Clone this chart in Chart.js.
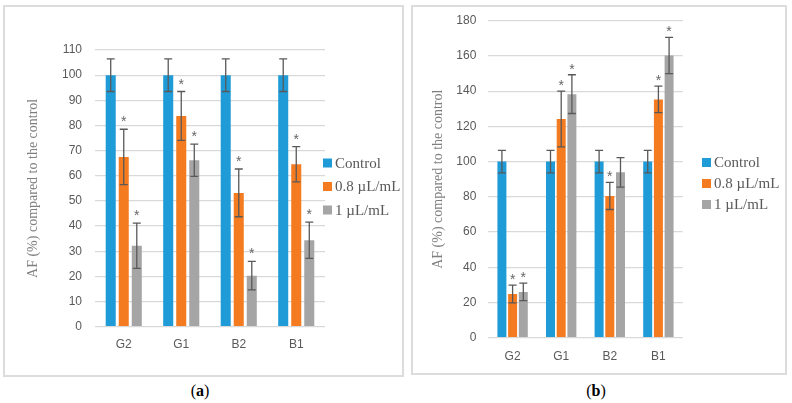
<!DOCTYPE html>
<html>
<head>
<meta charset="utf-8">
<script src="https://cdn.jsdelivr.net/npm/chart.js@4.4.1/dist/chart.umd.min.js"></script>
<style>
  html, body { margin: 0; padding: 0; background: #fff; }
  body { width: 792px; height: 403px; position: relative; overflow: hidden; }
  .box { position: absolute; border: 2px solid #dcdcdc; box-sizing: border-box; }
  .wrap { position: absolute; }
  .cap { position: absolute; font-family: "Liberation Serif", serif; font-size: 16px; color: #000; transform: translateX(-50%); }
</style>
</head>
<body>
<div class="box" style="left:3px;top:5px;width:401px;height:372px;"></div>
<div class="box" style="left:411px;top:5px;width:376px;height:370px;"></div>
<div class="wrap" style="left:0;top:0;width:405px;height:380px;"><canvas id="ca" width="405" height="380"></canvas></div>
<div class="wrap" style="left:405px;top:0;width:387px;height:380px;"><canvas id="cb" width="387" height="380"></canvas></div>
<div class="cap" style="left:200px;top:382px;">(<b>a</b>)</div>
<div class="cap" style="left:596px;top:382px;">(<b>b</b>)</div>
<script>
// ---- data ----
const categories = ['G2', 'G1', 'B2', 'B1'];
const seriesNames = ['Control', '0.8 \u00B5L/mL', '1 \u00B5L/mL'];

const aControl = [100, 100, 100, 100];
const aControlErr = [6.5, 6.5, 6.5, 6.5];
const aLow = [67.5, 83.8, 53.2, 64.6];
const aLowErr = [11, 9.7, 9.5, 7];
const aHigh = [32.2, 66.2, 20.3, 34.4];
const aHighErr = [9, 6.4, 5.7, 7.2];
const aLowSig = [true, true, true, true];
const aHighSig = [true, true, true, true];
const aTicks = { min: 0, max: 110, step: 10 };

const bControl = [100, 100, 100, 100];
const bControlErr = [6.4, 6.4, 6.4, 6.4];
const bLow = [24.8, 124.2, 80.5, 135.3];
const bLowErr = [5, 15.8, 7.7, 7.5];
const bHigh = [26, 138.3, 93.9, 160.2];
const bHighErr = [5, 11, 8.4, 10.3];
const bLowSig = [true, true, true, true];
const bHighSig = [true, true, false, true];
const bTicks = { min: 0, max: 180, step: 20 };

const colors = ['#1F9BD7', '#F47B20', '#A5A5A5'];
const yTitle = 'AF (%) compared to the control';

// ---- plugins ----
const errorBarPlugin = {
  id: 'errorBars',
  afterDatasetsDraw(chart) {
    const ctx = chart.ctx;
    const y = chart.scales.y;
    ctx.save();
    chart.data.datasets.forEach((ds, i) => {
      const meta = chart.getDatasetMeta(i);
      meta.data.forEach((bar, j) => {
        const v = ds.data[j], e = ds.err[j];
        const top = y.getPixelForValue(v + e);
        const bot = y.getPixelForValue(v - e);
        ctx.strokeStyle = '#595959';
        ctx.lineWidth = 1.3;
        ctx.beginPath();
        ctx.moveTo(bar.x, top); ctx.lineTo(bar.x, bot);
        ctx.moveTo(bar.x - 4, top); ctx.lineTo(bar.x + 4, top);
        ctx.moveTo(bar.x - 4, bot); ctx.lineTo(bar.x + 4, bot);
        ctx.stroke();
        if (ds.sig && ds.sig[j]) {
          ctx.fillStyle = '#666666';
          ctx.font = '14px "Liberation Sans", sans-serif';
          ctx.textAlign = 'center';
          ctx.textBaseline = 'alphabetic';
          ctx.fillText('*', bar.x, top - chart.options.plugins.errorBars.starGap);
        }
      });
    });
    ctx.restore();
  }
};

const legendPlugin = {
  id: 'sideLegend',
  afterDraw(chart) {
    const o = chart.options.plugins.sideLegend;
    const ctx = chart.ctx;
    ctx.save();
    chart.data.datasets.forEach((ds, i) => {
      const cy = o.y0 + i * o.dy;
      ctx.fillStyle = ds.backgroundColor;
      ctx.fillRect(o.x, cy - 4.5, 9, 9);
      ctx.fillStyle = '#595959';
      ctx.font = '15px "Liberation Serif", serif';
      ctx.textAlign = 'left';
      ctx.textBaseline = 'middle';
      ctx.fillText(ds.label, o.x + 12, cy + 1);
    });
    ctx.restore();
  }
};

function makeChart(id, sets, ticks, cfg) {
  const datasets = sets.map((s, i) => ({
    label: seriesNames[i],
    data: s.v,
    err: s.e,
    sig: s.sig,
    backgroundColor: colors[i],
    borderWidth: 0,
    categoryPercentage: cfg.cp,
    barPercentage: cfg.bp
  }));
  return new Chart(document.getElementById(id), {
    type: 'bar',
    data: { labels: categories, datasets },
    plugins: [errorBarPlugin, legendPlugin],
    options: {
      responsive: false,
      animation: false,
      layout: { padding: cfg.padding },
      plugins: {
        legend: { display: false },
        tooltip: { enabled: false },
        errorBars: { starGap: cfg.starGap },
        sideLegend: cfg.legend
      },
      scales: {
        x: {
          grid: { display: false, drawTicks: false },
          border: { display: false },
          ticks: { color: '#595959', padding: cfg.xPad, font: { family: '"Liberation Sans", sans-serif', size: 12 } },
          afterFit(s) { s.height = 30; }
        },
        y: {
          min: ticks.min, max: ticks.max,
          grid: { color: '#D9D9D9', lineWidth: 1.2, drawTicks: false },
          border: { display: false },
          ticks: { stepSize: ticks.step, color: '#595959', padding: cfg.tickPad, font: { family: '"Liberation Sans", sans-serif', size: 12 } },
          title: { display: true, text: yTitle, color: '#7F7F7F', padding: { top: 5, bottom: 0 }, font: { family: '"Liberation Serif", serif', size: 14 } },
          afterFit(s) { s.width = cfg.yWidth; }
        }
      }
    }
  });
}

makeChart('ca', [
  { v: aControl, e: aControlErr, sig: null },
  { v: aLow, e: aLowErr, sig: aLowSig },
  { v: aHigh, e: aHighErr, sig: aHighSig }
], aTicks, {
  cp: 0.68, bp: 0.77,
  padding: { left: 20, top: 50, right: 80, bottom: 23.3 },
  yWidth: 75, tickPad: 13, starGap: 3, xPad: 11,
  legend: { x: 323, y0: 163, dy: 23.5 }
});

makeChart('cb', [
  { v: bControl, e: bControlErr, sig: null },
  { v: bLow, e: bLowErr, sig: bLowSig },
  { v: bHigh, e: bHighErr, sig: bHighSig }
], bTicks, {
  cp: 0.66, bp: 0.84,
  padding: { left: 20, top: 20.7, right: 109.3, bottom: 12.3 },
  yWidth: 63.3, tickPad: 12, starGap: 1, xPad: 12,
  legend: { x: 297, y0: 162.5, dy: 21 }
});
</script>
</body>
</html>
